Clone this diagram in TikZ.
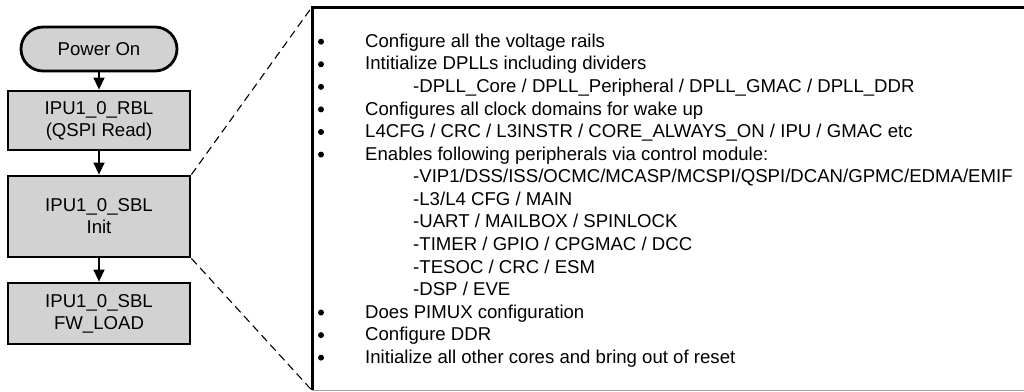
\documentclass[tikz,border=0pt]{standalone}
\usepackage{fontspec}
\setmainfont{Liberation Sans}
\usetikzlibrary{arrows.meta}
\definecolor{boxgray}{RGB}{210,210,210}
\definecolor{linegray}{RGB}{160,160,160}
\begin{document}
\begin{tikzpicture}[x=1pt,y=-1pt,
  flowbox/.style={draw=black, line width=2.8pt, fill=boxgray, inner sep=0pt, align=center,
    font=\fontsize{18.6}{22}\selectfont},
  flowarrow/.style={line width=1.4pt, -{Triangle[length=12pt,width=11pt]}},
  zoomline/.style={line width=1.1pt, dash pattern=on 8pt off 5pt},
  itemtext/.style={anchor=base west, inner sep=0pt, font=\fontsize{18.6}{22}\selectfont},
  bulletdot/.style={circle, fill=black, inner sep=0pt, minimum size=6pt}]
\useasboundingbox (0,0) rectangle (1024,391);
% flowchart
\node[flowbox, rounded corners=22pt, minimum width=156pt, minimum height=44pt] (pwr) at (99,49) {Power On};
\node[flowbox, minimum width=182pt, minimum height=59pt] (rbl) at (99,120.5) {IPU1\_0\_RBL\\(QSPI Read)};
\node[flowbox, minimum width=182pt, minimum height=81pt] (init) at (99,216.5) {IPU1\_0\_SBL\\Init};
\node[flowbox, minimum width=182pt, minimum height=61pt] (fw) at (99,313.5) {IPU1\_0\_SBL\\FW\_LOAD};
\draw[flowarrow] (pwr.south) -- (rbl.north);
\draw[flowarrow] (rbl.south) -- (init.north);
\draw[flowarrow] (init.south) -- (fw.north);
% detail box
\node[anchor=north west, minimum width=712pt, minimum height=383pt, inner sep=0pt, draw=none] (big) at (312,7) {};
\draw[linegray, line width=1pt] (big.south west) -- (big.south east);
\draw[line width=3pt] (big.south west) -- (big.north west) -- (big.north east);
\draw[zoomline] (init.north east) -- (big.north west);
\draw[zoomline] (init.south east) -- (big.south west);
% list
\def\ls{22.57}
\node[itemtext] (l1) at (365,47.4) {Configure all the voltage rails};
\node[itemtext] (l2) at (365,47.4+1*\ls) {Intitialize DPLLs including dividers};
\node[itemtext] (l3) at (413,47.4+2*\ls) {-DPLL\_Core / DPLL\_Peripheral / DPLL\_GMAC / DPLL\_DDR};
\node[itemtext] (l4) at (365,47.4+3*\ls) {Configures all clock domains for wake up};
\node[itemtext] (l5) at (365,47.4+4*\ls) {L4CFG / CRC / L3INSTR / CORE\_ALWAYS\_ON / IPU / GMAC etc};
\node[itemtext] (l6) at (365,47.4+5*\ls) {Enables following peripherals via control module:};
\node[itemtext] (l7) at (413,47.4+6*\ls) {-VIP1/DSS/ISS/OCMC/MCASP/MCSPI/QSPI/DCAN/GPMC/EDMA/EMIF};
\node[itemtext] (l8) at (413,47.4+7*\ls) {-L3/L4 CFG / MAIN};
\node[itemtext] (l9) at (413,47.4+8*\ls) {-UART / MAILBOX / SPINLOCK};
\node[itemtext] (l10) at (413,47.4+9*\ls) {-TIMER / GPIO / CPGMAC / DCC};
\node[itemtext] (l11) at (413,47.4+10*\ls) {-TESOC / CRC / ESM};
\node[itemtext] (l12) at (413,47.4+11*\ls) {-DSP / EVE};
\node[itemtext] (l13) at (365,47.4+12*\ls) {Does PIMUX configuration};
\node[itemtext] (l14) at (365,47.4+13*\ls) {Configure DDR};
\node[itemtext] (l15) at (365,47.4+14*\ls) {Initialize all other cores and bring out of reset};
% bullets
\foreach \i in {0,1,2,3,4,5,12,13,14}{
  \node[bulletdot] (b\i) at (321,41.7+\i*\ls) {};
}
\end{tikzpicture}
\end{document}
